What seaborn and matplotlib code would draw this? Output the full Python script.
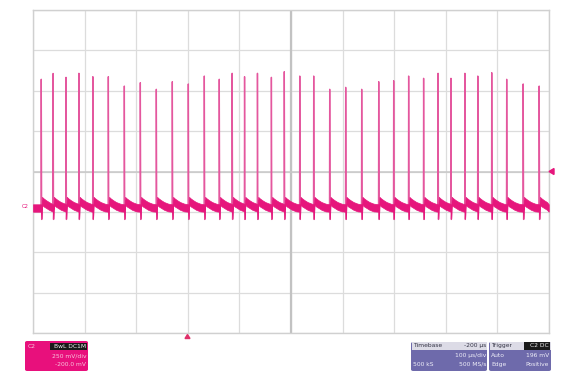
import numpy as np
import pandas as pd
import matplotlib
matplotlib.use("Agg")
import matplotlib.pyplot as plt
import seaborn as sns
from matplotlib.patches import FancyBboxPatch, Rectangle, Polygon

# ---- data (time in µs, voltage in mV) ----
spike_times = [-284, -261, -236, -211, -184, -154, -123, -92, -61, -30,
               1, 32, 61, 86, 110, 135, 162, 187, 217, 244,
               275, 306, 337, 370, 399, 428, 457, 485, 510, 537,
               562, 589, 618, 650, 681]
spike_peaks = [778, 814, 790, 815, 794, 794, 736, 757, 716, 763,
               749, 798, 778, 815, 794, 815, 790, 825, 798, 798,
               716, 728, 716, 763, 769, 798, 784, 815, 784, 815,
               798, 819, 778, 749, 736]
# pulse envelope after each spike: offset (µs), band top / bottom (mV)
pulse_offsets = [0.5, 1.5, 4.0, 9.0, 15.0, 23.0]
pulse_upper = [-25, 50, 42, 30, 18, 8]
pulse_lower = [-85, 2, -8, -18, -30, -40]
undershoot = -90
rest_upper, rest_lower = 4, -42

x_limits = (-300, 700)
volts_per_div = 250
center_mV = 207
trigger_level = 196

# ---- build trace from the data ----
t_line, v_line = [], []
t_band, up_band, lo_band = [x_limits[0]], [rest_upper], [rest_lower]
for i, (ts, pk) in enumerate(zip(spike_times, spike_peaks)):
    tn = spike_times[i + 1] if i + 1 < len(spike_times) else x_limits[1]
    t_line += [ts - 0.4, ts, ts + 0.8, ts + 2.0]
    v_line += [-20, pk, undershoot, 25]
    t_band += [ts - 0.4]
    up_band += [rest_upper]
    lo_band += [rest_lower]
    for dt, u, l in zip(pulse_offsets, pulse_upper, pulse_lower):
        if ts + dt < tn:
            t_band.append(ts + dt); up_band.append(u); lo_band.append(l)
    t_band.append(min(tn - 0.5, x_limits[1])); up_band.append(rest_upper); lo_band.append(rest_lower)

df = pd.DataFrame({"t": t_line, "v": v_line})

W, H = 563, 385
fig = plt.figure(figsize=(W / 100, H / 100), dpi=100)
sns.set_style("white")
ax = fig.add_axes([33 / W, (H - 333) / H, 516 / W, 323 / H])

def fx(px):
    return px / W
def fy(py):
    return (H - py) / H

ymin = center_mV - 4 * volts_per_div
ymax = center_mV + 4 * volts_per_div
ax.set_xlim(*x_limits)
ax.set_ylim(ymin, ymax)

# grid
xt = np.arange(x_limits[0], x_limits[1] + 1, 100)
yt = np.arange(ymin, ymax + 1, volts_per_div)
for x in xt:
    ax.axvline(x, color="#dcdcdc", lw=0.9, zorder=0)
for y in yt:
    ax.axhline(y, color="#dcdcdc", lw=0.9, zorder=0)
ax.axvline(200, color="#c2c2c2", lw=1.6, zorder=0)
ax.axhline(center_mV, color="#c8c8c8", lw=1.1, zorder=0)

ax.set_xticks([]); ax.set_yticks([])
for s in ax.spines.values():
    s.set_color("#d0d0d0"); s.set_linewidth(1.0)

# trace
sns.lineplot(data=df, x="t", y="v", ax=ax, color="#e4579e", lw=1.0,
             estimator=None, sort=False, zorder=2)
ax.fill_between(t_band, lo_band, up_band, color="#e6167c", lw=0.5, zorder=3)
ax.set_xlabel(""); ax.set_ylabel("")

# trigger level marker (right) and ground marker (left)
fig.patches.append(Polygon([[fx(549), fy(171.5)], [fx(554), fy(168.5)], [fx(554), fy(174.5)]],
                           closed=True, transform=fig.transFigure, color="#e6167c"))
fig.text(fx(22), fy(206), "C2", fontsize=3.8, color="#e6167c", va="center", ha="left")
# trigger position marker (bottom)
fig.patches.append(Polygon([[fx(187.5), fy(334.5)], [fx(185), fy(338.5)], [fx(190), fy(338.5)]],
                           closed=True, transform=fig.transFigure, color="#e0306a"))

# ---- channel box ----
fig.patches.append(FancyBboxPatch((fx(25), fy(371)), fx(63), 30 / H,
                                  boxstyle="round,pad=0,rounding_size=0.004",
                                  transform=fig.transFigure, color="#e8107c", lw=0))
fig.patches.append(Rectangle((fx(50), fy(349.5)), fx(37), 7 / H,
                             transform=fig.transFigure, color="#1a1a1a", lw=0))
fs = 4.3
fig.text(fx(28), fy(346), "C2", fontsize=fs, color="#f7c6dd", va="center")
fig.text(fx(86), fy(346), "BwL DC1M", fontsize=fs, color="#f0f0f0", va="center", ha="right")
fig.text(fx(86), fy(356), "250 mV/div", fontsize=fs, color="#f7c6dd", va="center", ha="right")
fig.text(fx(86), fy(364.5), "-200.0 mV", fontsize=fs, color="#f7c6dd", va="center", ha="right")

# ---- timebase box ----
fig.patches.append(FancyBboxPatch((fx(411), fy(371)), fx(76), 29 / H,
                                  boxstyle="round,pad=0,rounding_size=0.004",
                                  transform=fig.transFigure, color="#6e6aab", lw=0))
fig.patches.append(Rectangle((fx(411.5), fy(349.5)), fx(75), 7.5 / H,
                             transform=fig.transFigure, color="#dcdbe6", lw=0))
fig.text(fx(413), fy(345.8), "Timebase", fontsize=fs, color="#333344", va="center")
fig.text(fx(486), fy(345.8), "-200 µs", fontsize=fs, color="#333344", va="center", ha="right")
fig.text(fx(486), fy(355.5), "100 µs/div", fontsize=fs, color="#eeeef8", va="center", ha="right")
fig.text(fx(413), fy(364.5), "500 kS", fontsize=fs, color="#eeeef8", va="center")
fig.text(fx(486), fy(364.5), "500 MS/s", fontsize=fs, color="#eeeef8", va="center", ha="right")

# ---- trigger box ----
fig.patches.append(FancyBboxPatch((fx(489), fy(371)), fx(62), 29 / H,
                                  boxstyle="round,pad=0,rounding_size=0.004",
                                  transform=fig.transFigure, color="#6e6aab", lw=0))
fig.patches.append(Rectangle((fx(489.5), fy(349.5)), fx(61), 7.5 / H,
                             transform=fig.transFigure, color="#dcdbe6", lw=0))
fig.patches.append(Rectangle((fx(524), fy(349.5)), fx(26), 7.5 / H,
                             transform=fig.transFigure, color="#1a1a1a", lw=0))
fig.text(fx(491), fy(345.8), "Trigger", fontsize=fs, color="#333344", va="center")
fig.text(fx(549), fy(345.8), "C2 DC", fontsize=fs, color="#f0f0f0", va="center", ha="right")
fig.text(fx(491), fy(355.5), "Auto", fontsize=fs, color="#eeeef8", va="center")
fig.text(fx(549), fy(355.5), f"{trigger_level} mV", fontsize=fs, color="#eeeef8", va="center", ha="right")
fig.text(fx(491), fy(364.5), "Edge", fontsize=fs, color="#eeeef8", va="center")
fig.text(fx(549), fy(364.5), "Positive", fontsize=fs, color="#eeeef8", va="center", ha="right")

fig.savefig("out.png", dpi=100, facecolor="white")
